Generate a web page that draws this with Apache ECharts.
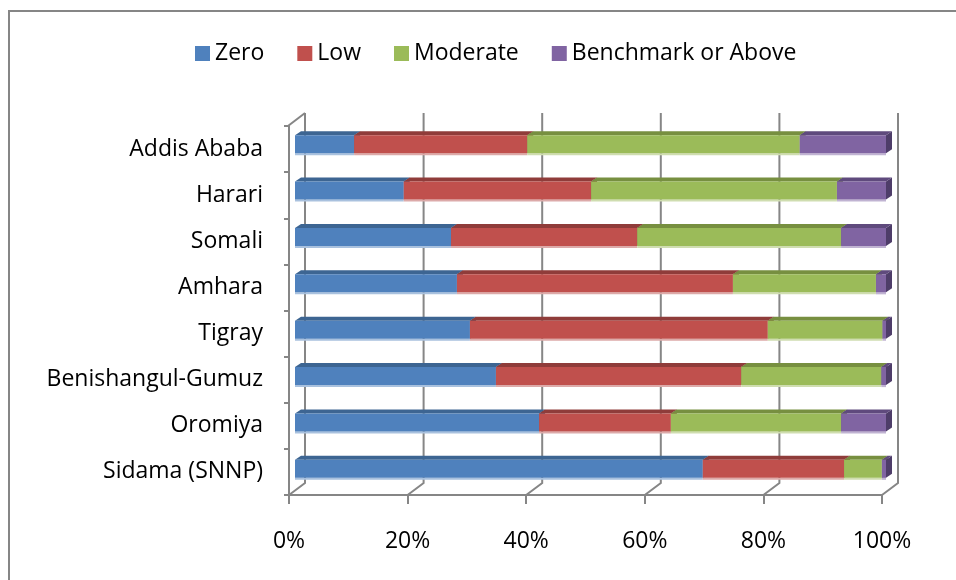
<!DOCTYPE html>
<html><head><meta charset="utf-8">
<script src="https://cdn.jsdelivr.net/npm/echarts@6/dist/echarts.min.js"></script>
<style>html,body{margin:0;padding:0;background:#fff}#c{width:956px;height:580px}</style>
</head><body><div id="c"></div>
<script>
var categories = ['Addis Ababa','Harari','Somali','Amhara','Tigray','Benishangul-Gumuz','Oromiya','Sidama (SNNP)'];
var seriesNames = ['Zero','Low','Moderate','Benchmark or Above'];
var zero      = [10.0, 18.4, 26.4, 27.4, 29.6, 34.0, 41.3, 69.0];
var low       = [29.3, 31.7, 31.5, 46.7, 50.4, 41.5, 22.3, 23.9];
var moderate  = [46.1, 41.6, 34.5, 24.2, 19.4, 23.7, 28.8, 6.4];
var benchmark = [14.6, 8.3, 7.6, 1.7, 0.6, 0.8, 7.6, 0.7];
var xTicks = [0, 20, 40, 60, 80, 100];

var front = ['#4f81bd','#c0504d','#9bbb59','#8064a2'];
var topC  = ['#3d6592','#8f3c3a','#778f40','#5f4a7d'];
var sideC = ['#36597f','#7d3533','#687d38','#4e3d69'];
var lowC  = ['#a9c1de','#dcaaa9','#cfddb0','#c0b3d2'];
var DX = 6, DY = 4;
var FONT = 'Open Sans';

var values = [zero, low, moderate, benchmark];
var cum = categories.map(function(){return 0;});
var series = [];

// back wall / floor decoration on the front axis grid
series.push({
  type: 'custom', xAxisIndex: 1, yAxisIndex: 1, z: 1, silent: true,
  data: xTicks.map(function(v){return [v, categories[0]];}),
  renderItem: function(params, api){
    var cs = params.coordSys;
    var x = api.coord([api.value(0), categories[0]])[0];
    var b = cs.y + cs.height, t = cs.y;
    var st = {stroke:'#868686', lineWidth:2, fill:null};
    var ch = [
      {type:'polyline', shape:{points:[[x,b],[x+16,b-12],[x+16,t-13]]}, style:st}
    ];
    if (api.value(0) === 0) {
      ch.push({type:'line', shape:{x1:x-1,y1:t,x2:x+16,y2:t-13}, style:st});
    }
    return {type:'group', children:ch};
  }
});

values.forEach(function(arr, s){
  var data = arr.map(function(v, i){
    var st = cum[i]; cum[i] += v;
    return [st, cum[i], categories[i]];
  });
  series.push({
    name: seriesNames[s], type:'custom', xAxisIndex:0, yAxisIndex:0, z: 2+s,
    itemStyle:{color: front[s]},
    encode:{x:[0,1], y:2},
    data: data,
    renderItem: function(params, api){
      var p0 = api.coord([api.value(0), api.value(2)]);
      var p1 = api.coord([api.value(1), api.value(2)]);
      var h = api.size([0,1])[1]*0.39;
      var x0 = p0[0], x1 = p1[0], y = p0[1]-h/2;
      return {type:'group', children:[
        {type:'rect', shape:{x:x0,y:y+h,width:x1-x0,height:2}, style:{fill:lowC[s]}},
        {type:'polygon', shape:{points:[[x1,y],[x1+DX,y-DY],[x1+DX,y+h-DY],[x1,y+h]]}, style:{fill:sideC[s]}},
        {type:'polygon', shape:{points:[[x0,y],[x0+DX,y-DY],[x1+DX,y-DY],[x1,y]]}, style:{fill:topC[s]}},
        {type:'rect', shape:{x:x0,y:y,width:x1-x0,height:h}, style:{fill:front[s]}}
      ]};
    }
  });
});

var chart = echarts.init(document.getElementById('c'));
chart.setOption({
  animation:false,
  textStyle:{fontFamily:FONT},
  graphic:[{type:'rect', shape:{x:9,y:11,width:1100,height:1000}, style:{fill:null, stroke:'#868686', lineWidth:2}, z:0}],
  legend:{
    data: seriesNames, left:190, top:37, icon:'rect', itemWidth:15, itemHeight:15, itemGap:33,
    textStyle:{fontFamily:FONT, fontSize:23, color:'#000'}
  },
  grid:[
    {left:295, right:70, top:121, bottom:88},
    {left:289, right:74, top:126, bottom:85}
  ],
  xAxis:[
    {gridIndex:0, type:'value', min:0, max:100, show:false},
    {gridIndex:1, type:'value', min:0, max:100, interval:20,
     axisLine:{show:true, lineStyle:{color:'#868686', width:2}},
     axisTick:{show:true, length:9, lineStyle:{color:'#868686', width:2}},
     splitLine:{show:false},
     axisLabel:{formatter:'{value}%', margin:35, fontFamily:FONT, fontSize:23, color:'#000'}}
  ],
  yAxis:[
    {gridIndex:0, type:'category', data:categories, inverse:true, show:false},
    {gridIndex:1, type:'category', data:categories, inverse:true,
     axisLine:{show:true, lineStyle:{color:'#868686', width:2}},
     axisTick:{show:true, length:5, lineStyle:{color:'#868686', width:2}},
     axisLabel:{margin:26, padding:[6,0,0,0], fontFamily:FONT, fontSize:23, color:'#000'}}
  ],
  series: series
});
</script></body></html>
